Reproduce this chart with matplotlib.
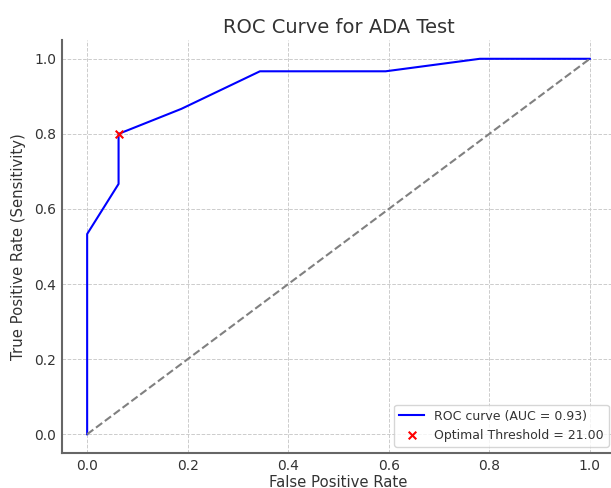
import matplotlib
matplotlib.use('Agg')
import matplotlib.pyplot as plt

# ROC points
fpr = [0.0, 0.0, 0.0625, 0.0625, 0.1875, 0.34375, 0.59375, 0.78125, 1.0]
tpr = [0.0, 0.5333, 0.6667, 0.8, 0.8667, 0.9667, 0.9667, 1.0, 1.0]
auc_value = 0.93
optimal_fpr = [0.0625]
optimal_tpr = [0.8]
optimal_threshold = 21.00

text_color = '#333333'
plt.rcParams['text.color'] = text_color
plt.rcParams['axes.labelcolor'] = text_color
plt.rcParams['xtick.color'] = text_color
plt.rcParams['ytick.color'] = text_color

fig = plt.figure(figsize=(6.11, 4.88), dpi=100)
ax = fig.add_axes([0.1015, 0.0717, 0.905, 0.8463])

ax.plot(fpr, tpr, color='blue', lw=1.5, label=f'ROC curve (AUC = {auc_value:.2f})')
ax.plot([0, 1], [0, 1], color='gray', lw=1.5, linestyle='--')
ax.scatter(optimal_fpr, optimal_tpr, marker='x', color='red', s=30, zorder=3,
           label=f'Optimal Threshold = {optimal_threshold:.2f}')

ax.set_xlim(-0.05, 1.05)
ax.set_ylim(-0.05, 1.05)
ax.set_xticks([0.0, 0.2, 0.4, 0.6, 0.8, 1.0])
ax.set_yticks([0.0, 0.2, 0.4, 0.6, 0.8, 1.0])
ax.grid(True, linestyle='--', color='#cccccc', lw=0.7)
ax.spines['top'].set_visible(False)
ax.spines['right'].set_visible(False)
for s in ['left', 'bottom']:
    ax.spines[s].set_color('#666666')
    ax.spines[s].set_linewidth(1.5)

ax.set_xlabel('False Positive Rate', fontsize=10.7, labelpad=2)
ax.set_ylabel('True Positive Rate (Sensitivity)', fontsize=10.7, labelpad=6)
ax.set_title('ROC Curve for ADA Test', fontsize=14, pad=5)
ax.tick_params(labelsize=10, length=0, pad=4)
ax.legend(loc='lower right', fontsize=9)

fig.savefig('out.png', dpi=100)
